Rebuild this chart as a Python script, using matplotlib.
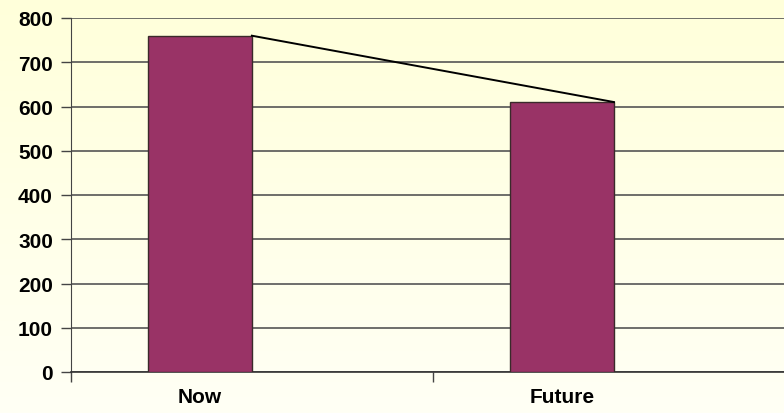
import matplotlib
matplotlib.use("Agg")
import matplotlib.pyplot as plt
import numpy as np
from matplotlib.colors import LinearSegmentedColormap

categories = ["Now", "Future"]
values = [760, 610]
y_ticks = [0, 100, 200, 300, 400, 500, 600, 700, 800]

plt.rcParams["font.family"] = ["Liberation Sans", "DejaVu Sans"]

fig = plt.figure(figsize=(7.84, 4.14), dpi=100)

# background gradient, pale yellow at top fading toward white
bg = fig.add_axes([0, 0, 1, 1], zorder=-10)
grad = np.linspace(0, 1, 256).reshape(-1, 1)
cmap = LinearSegmentedColormap.from_list("bg", ["#FFFFDA", "#FFFFF5"])
bg.imshow(grad, aspect="auto", cmap=cmap, extent=[0, 1, 0, 1])
bg.set_axis_off()

ax = fig.add_axes([71 / 784, 41 / 414, 1 - 71 / 784, 354 / 414])
ax.patch.set_alpha(0)

x = np.arange(len(categories))
width = 0.287
ax.bar(x, values, width=width, color="#993366", edgecolor="#3a2a2a",
       linewidth=1.0, zorder=3)
# series line joining the bar tops
ax.plot(x + width / 2, values, color="black", linewidth=1.4, zorder=4)

ax.set_ylim(0, 800)
ax.set_xlim(-0.356, 1.613)
ax.set_yticks(y_ticks)
ax.set_yticklabels([str(t) for t in y_ticks], fontsize=15, fontweight="bold")
ax.yaxis.grid(True, color="#555555", linewidth=1.2, zorder=0)
ax.set_axisbelow(True)

ax.set_xticks(x)
ax.set_xticklabels(categories, fontsize=15, fontweight="bold")
ax.tick_params(axis="x", which="major", length=0, pad=11)
ax.set_xticks([-0.356, 0.644], minor=True)
ax.tick_params(axis="x", which="minor", length=7, width=1, color="#444444")
ax.tick_params(axis="y", length=7, width=1, color="#444444", pad=6)

for side in ["top", "right"]:
    ax.spines[side].set_visible(False)
ax.spines["left"].set_color("#444444")
ax.spines["bottom"].set_color("#333333")
ax.spines["bottom"].set_linewidth(1.2)

fig.savefig("out.png", dpi=100)
plt.close(fig)
